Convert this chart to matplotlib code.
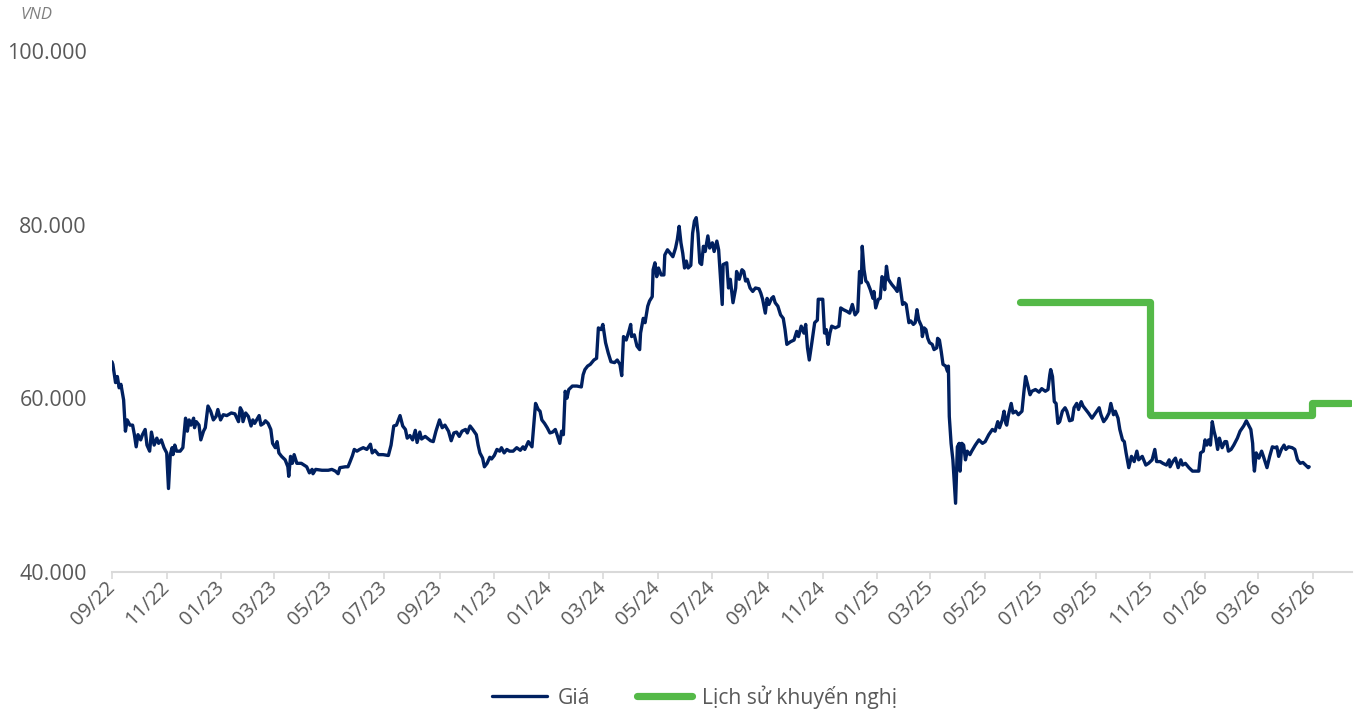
import pandas as pd
import matplotlib
matplotlib.use('Agg')
import matplotlib.pyplot as plt
import matplotlib.dates as mdates
from matplotlib.ticker import FuncFormatter

# ngày tính từ 01/09/2022, giá theo nghìn VND
start = pd.Timestamp('2022-09-01')
ngay = [0, 1, 4, 6, 8, 10, 13, 15, 17, 20,
        23, 25, 27, 29, 32, 34, 37, 39, 42, 44,
        47, 50, 52, 55, 58, 61, 63, 65, 67, 68,
        70, 72, 76, 79, 82, 84, 86, 88, 91, 92,
        94, 97, 99, 102, 104, 107, 110, 113, 116, 118,
        121, 124, 128, 133, 137, 141, 143, 145, 146, 149,
        152, 155, 157, 159, 164, 166, 169, 171, 174, 177,
        179, 182, 184, 186, 189, 193, 196, 197, 199, 201,
        203, 206, 211, 217, 220, 223, 224, 227, 234, 241,
        245, 249, 252, 254, 260, 263, 265, 268, 270, 273,
        276, 280, 284, 288, 290, 293, 297, 302, 308, 311,
        314, 317, 321, 324, 327, 329, 332, 335, 338, 340,
        343, 345, 349, 355, 358, 361, 365, 368, 371, 375,
        378, 381, 384, 387, 390, 394, 396, 399, 402, 406,
        408, 410, 413, 415, 418, 421, 423, 426, 429, 432,
        434, 437, 440, 443, 447, 451, 455, 458, 460, 464,
        468, 470, 472, 475, 477, 479, 482, 485, 488, 491,
        494, 496, 499, 501, 503, 505, 507, 509, 513, 518,
        523, 525, 527, 530, 533, 537, 540, 542, 545, 547,
        550, 553, 556, 560, 563, 566, 568, 570, 573, 576,
        578, 579, 582, 585, 588, 589, 592, 594, 597, 599,
        602, 603, 605, 607, 609, 612, 615, 616, 619, 622,
        625, 628, 630, 632, 634, 636, 638, 640, 642, 645,
        647, 649, 651, 653, 655, 657, 659, 661, 664, 666,
        669, 671, 674, 676, 678, 680, 681, 685, 687, 689,
        692, 695, 696, 699, 702, 704, 706, 708, 711, 714,
        717, 721, 723, 725, 728, 730, 732, 735, 737, 739,
        742, 745, 748, 750, 752, 756, 760, 763, 765, 768,
        771, 773, 775, 777, 780, 783, 786, 787, 789, 792,
        794, 796, 798, 800, 802, 806, 810, 812, 815, 819,
        822, 825, 828, 831, 833, 835, 836, 838, 840, 842,
        845, 848, 849, 851, 854, 856, 858, 860, 861, 863,
        865, 869, 873, 875, 877, 879, 881, 883, 885, 888,
        890, 893, 895, 897, 899, 902, 903, 905, 907, 909,
        911, 914, 916, 919, 920, 922, 924, 926, 929, 931,
        932, 933, 935, 937, 940, 942, 944, 945, 947, 949,
        951, 953, 956, 958, 962, 966, 970, 973, 977, 981,
        984, 987, 989, 992, 994, 996, 997, 999, 1002, 1004,
        1007, 1010, 1014, 1016, 1018, 1020, 1023, 1025, 1029, 1033,
        1036, 1040, 1043, 1045, 1046, 1048, 1050, 1052, 1054, 1056,
        1059, 1062, 1064, 1067, 1070, 1072, 1075, 1077, 1080, 1082,
        1085, 1088, 1092, 1096, 1100, 1102, 1105, 1108, 1111, 1113,
        1116, 1118, 1121, 1123, 1126, 1128, 1130, 1133, 1136, 1139,
        1142, 1144, 1148, 1152, 1155, 1159, 1162, 1164, 1168, 1171,
        1175, 1178, 1179, 1182, 1185, 1188, 1191, 1193, 1196, 1200,
        1204, 1207, 1211, 1213, 1216, 1218, 1220, 1222, 1224, 1226,
        1228, 1230, 1232, 1234, 1237, 1240, 1242, 1244, 1247, 1250,
        1254, 1257, 1261, 1264, 1267, 1269, 1271, 1272, 1273, 1275,
        1278, 1281, 1283, 1286, 1287, 1290, 1293, 1296, 1298, 1300,
        1303, 1306, 1308, 1311, 1315, 1318, 1321, 1324, 1327, 1330,
        1333, 1334]
gia = [64.2, 63.9, 61.8, 62.5, 61.2, 61.6, 59.8, 56.2, 57.5, 56.9,
       56.9, 55.8, 54.4, 55.8, 55.2, 55.8, 56.4, 54.6, 53.9, 56.1,
       54.6, 55.4, 54.8, 55.2, 54.3, 53.7, 49.6, 53.5, 54.3, 53.5,
       54.6, 53.9, 53.9, 54.3, 57.7, 56.2, 57.5, 56.9, 57.7, 56.6,
       57.3, 56.9, 55.2, 56.2, 56.6, 59.1, 58.5, 57.5, 57.9, 58.7,
       57.5, 58.1, 58.0, 58.3, 58.2, 57.3, 58.9, 58.5, 57.3, 58.3,
       57.9, 56.8, 57.5, 57.1, 58.0, 56.9, 57.1, 57.4, 57.1, 56.4,
       54.8, 54.3, 55.0, 53.7, 53.3, 52.9, 52.1, 51.0, 53.3, 52.5,
       53.5, 52.5, 52.5, 52.1, 51.4, 51.8, 51.3, 51.8, 51.7, 51.7,
       51.8, 51.6, 51.3, 52.0, 52.1, 52.1, 52.6, 53.4, 54.1, 53.9,
       54.1, 54.3, 54.1, 54.7, 53.7, 54.0, 53.5, 53.5, 53.4, 54.6,
       56.8, 56.9, 58.0, 56.8, 56.4, 55.4, 55.7, 55.2, 56.3, 54.9,
       56.1, 55.3, 55.6, 55.1, 55.0, 56.2, 57.5, 56.6, 56.9, 56.2,
       55.1, 56.0, 56.1, 55.6, 56.2, 56.4, 56.0, 56.8, 56.4, 55.8,
       54.6, 53.7, 53.1, 52.1, 52.5, 53.2, 53.0, 53.4, 54.1, 53.9,
       54.3, 53.7, 54.1, 53.9, 53.9, 54.3, 54.0, 54.4, 54.1, 55.0,
       54.4, 56.9, 59.4, 58.7, 58.5, 57.5, 57.1, 56.6, 56.0, 56.1,
       56.4, 55.8, 54.8, 56.2, 55.8, 60.8, 60.0, 61.0, 61.4, 61.4,
       61.3, 62.7, 63.3, 63.7, 63.9, 64.4, 64.6, 68.1, 67.9, 68.5,
       66.4, 65.2, 64.2, 64.1, 64.4, 63.9, 62.6, 67.1, 66.7, 67.7,
       68.5, 67.1, 67.3, 66.0, 65.6, 67.5, 69.2, 68.7, 70.6, 71.2,
       71.7, 74.8, 75.6, 74.0, 75.0, 74.2, 74.2, 76.5, 77.1, 76.7,
       76.3, 77.3, 78.3, 79.8, 77.9, 76.7, 75.0, 75.8, 75.0, 75.3,
       79.0, 80.4, 80.8, 79.0, 75.6, 75.4, 77.5, 76.9, 78.7, 77.3,
       77.9, 76.9, 78.1, 77.1, 74.0, 70.8, 75.4, 75.6, 72.7, 73.7,
       71.0, 72.7, 74.6, 73.7, 74.8, 74.6, 73.5, 73.7, 72.7, 72.3,
       72.7, 72.6, 72.1, 71.4, 69.8, 71.5, 70.8, 71.5, 71.7, 71.0,
       70.6, 69.6, 69.2, 67.9, 66.2, 66.5, 66.7, 67.7, 67.1, 68.3,
       67.5, 68.5, 65.8, 64.4, 66.5, 68.7, 69.0, 71.4, 71.4, 71.4,
       67.5, 67.9, 66.2, 67.5, 68.3, 68.1, 68.3, 70.4, 70.2, 70.0,
       69.8, 70.8, 69.6, 70.0, 74.6, 73.3, 77.5, 74.8, 73.5, 73.3,
       72.5, 71.5, 72.3, 70.4, 71.4, 71.5, 74.0, 73.7, 72.5, 75.2,
       73.7, 73.1, 72.6, 72.3, 73.8, 72.3, 70.8, 71.0, 70.8, 68.7,
       68.9, 68.5, 68.7, 70.2, 69.0, 68.3, 67.1, 68.1, 67.9, 66.9,
       66.4, 66.2, 65.6, 65.8, 66.9, 66.7, 65.4, 63.9, 63.7, 63.1,
       63.7, 57.9, 54.8, 52.9, 47.9, 54.4, 54.8, 51.6, 54.8, 54.6,
       52.9, 53.9, 53.5, 53.9, 54.6, 55.2, 54.8, 55.0, 55.8, 56.4,
       56.2, 57.3, 56.6, 57.5, 58.5, 57.1, 56.9, 58.1, 59.4, 58.3,
       58.5, 58.1, 58.5, 60.6, 62.5, 61.7, 60.4, 60.8, 61.0, 60.7,
       61.1, 60.8, 61.0, 62.7, 63.3, 62.5, 59.6, 59.4, 57.1, 57.3,
       58.5, 58.9, 58.5, 57.4, 57.5, 58.9, 59.4, 58.7, 59.6, 59.1,
       58.7, 58.3, 57.7, 58.3, 58.9, 58.1, 57.3, 57.7, 58.3, 59.4,
       58.1, 58.5, 57.7, 56.4, 55.2, 55.0, 53.7, 52.0, 53.3, 52.7,
       53.9, 52.9, 53.3, 52.3, 52.5, 52.9, 54.1, 52.7, 52.7, 52.5,
       52.3, 52.9, 52.1, 52.7, 53.1, 52.0, 52.9, 52.3, 52.5, 52.0,
       51.6, 51.6, 51.6, 53.7, 53.9, 55.2, 54.6, 55.2, 54.6, 57.3,
       56.2, 55.4, 54.1, 55.4, 54.3, 55.0, 55.0, 53.9, 54.1, 54.6,
       55.4, 56.2, 56.8, 57.4, 56.8, 56.4, 54.8, 52.7, 51.6, 53.7,
       53.1, 53.9, 53.3, 52.3, 52.0, 53.3, 54.4, 54.3, 54.4, 53.3,
       54.1, 54.6, 54.1, 54.4, 54.3, 54.1, 52.9, 52.5, 52.6, 52.3,
       52.0, 52.1]

# lịch sử khuyến nghị (giá mục tiêu)
kn_ngay = [1012, 1157, 1337, 1380]
kn_gia = [71.1, 58.1, 59.4, 59.4]

yticks = [40, 60, 80, 100]

navy = '#002060'
green = '#54B948'
grey = '#595959'

plt.rcParams['font.family'] = ['Open Sans', 'DejaVu Sans']

x = start + pd.to_timedelta(ngay, unit='D')
xk = start + pd.to_timedelta(kn_ngay, unit='D')

fig = plt.figure(figsize=(13.57, 7.13), dpi=100)
ax = fig.add_axes([0.0825, 0.198, 0.914, 0.7305])

ax.plot(x, gia, color=navy, lw=2.4, solid_joinstyle='round', solid_capstyle='round', label='Giá')
ax.plot(xk, kn_gia, color=green, lw=5.2, drawstyle='steps-post',
        solid_joinstyle='round', solid_capstyle='round', label='Lịch sử khuyến nghị')

ax.set_ylim(40, 100)
ax.set_yticks(yticks)
ax.yaxis.set_major_formatter(FuncFormatter(lambda v, p: f'{v * 1000:,.0f}'.replace(',', '.')))
ax.set_xlim(start, start + pd.Timedelta(days=1382))
ax.xaxis.set_major_locator(mdates.MonthLocator(bymonth=[1, 3, 5, 7, 9, 11]))
ax.xaxis.set_major_formatter(mdates.DateFormatter('%m/%y'))

for s in ['top', 'right', 'left']:
    ax.spines[s].set_visible(False)
ax.spines['bottom'].set_color('#D9D9D9')
ax.spines['bottom'].set_linewidth(1.5)

ax.tick_params(axis='y', length=0, pad=18, labelsize=15.5, labelcolor=grey)
ax.tick_params(axis='x', length=5, width=1.2, color='#D9D9D9', pad=4, labelsize=14.5, labelcolor=grey)
for lab in ax.get_xticklabels():
    lab.set_rotation(45)
    lab.set_ha('right')
    lab.set_va('center')
    lab.set_rotation_mode('anchor')

fig.text(20 / 1357, 1 - 15 / 713, 'VND', fontsize=12, style='italic', color='#7F7F7F', va='center')

fig.legend(loc='center', bbox_to_anchor=(0.512, 1 - 697 / 713), ncol=2, frameon=False,
           fontsize=15.2, labelcolor=grey, handlelength=2.6, handletextpad=0.5, columnspacing=2.2)

fig.savefig('out.png', dpi=100)
